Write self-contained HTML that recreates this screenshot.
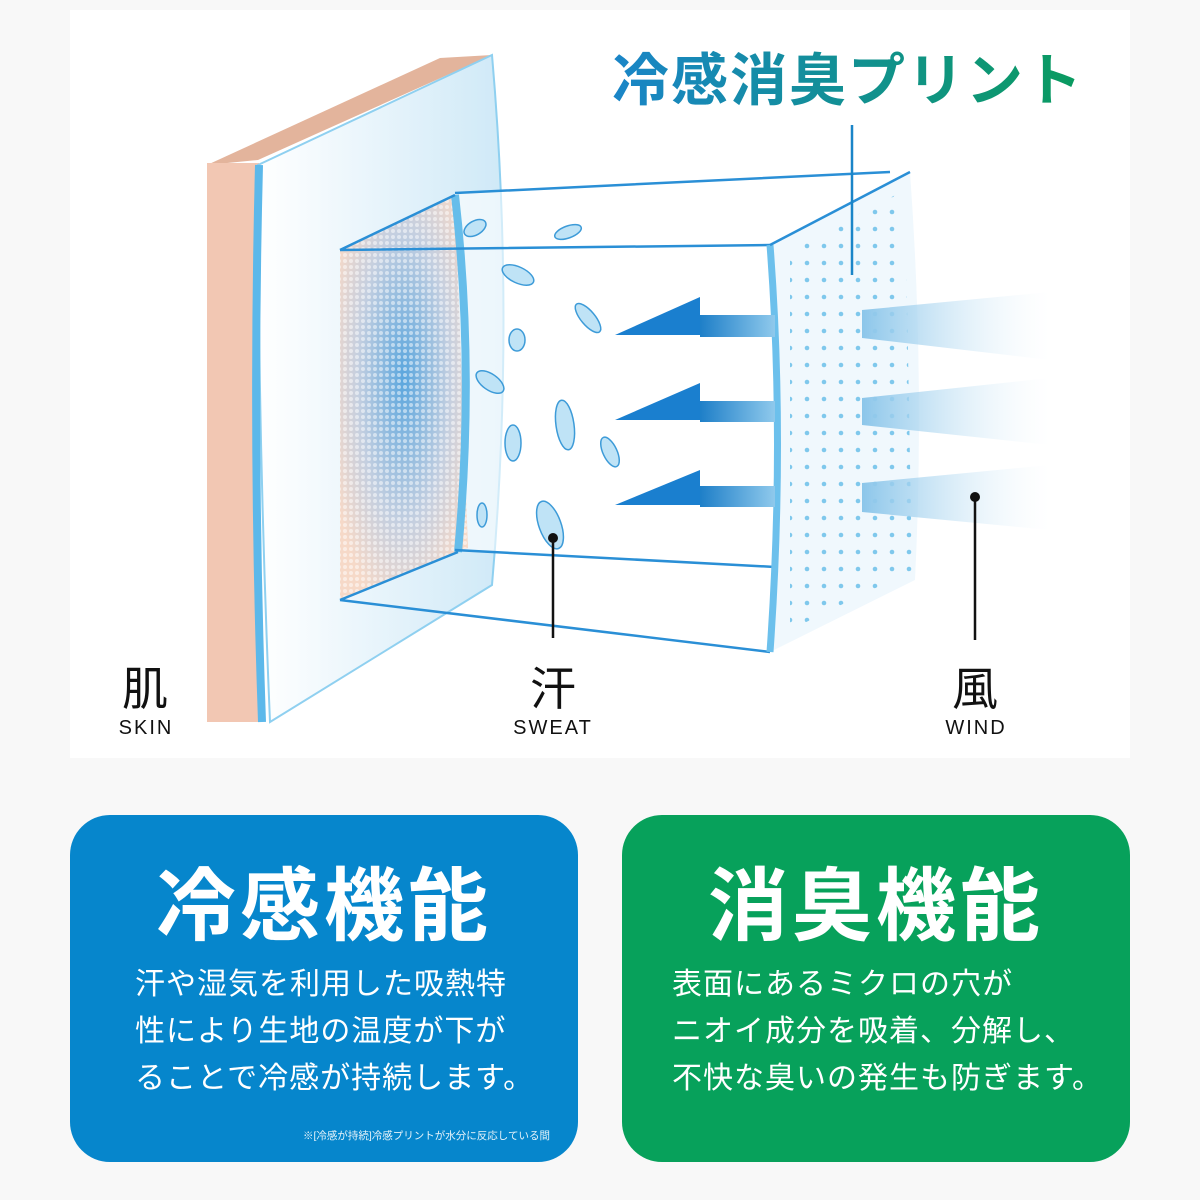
<!DOCTYPE html>
<html><head><meta charset="utf-8"><style>
body{margin:0;background:#f8f8f8;width:1200px;height:1200px;overflow:hidden;font-family:"Liberation Sans","Noto Sans CJK JP",sans-serif}
.card{position:absolute;top:815px;width:508px;height:347px;border-radius:40px;color:#fff}
.card h2{margin:0;position:absolute;top:44px;width:100%;text-align:center;font-size:80px;font-weight:bold;letter-spacing:4px;line-height:95px}
.card p{margin:0;position:absolute;top:146px;font-size:30px;line-height:47px;letter-spacing:1px}
</style></head><body>
<svg width="1200" height="760" style="position:absolute;left:0;top:0" xmlns="http://www.w3.org/2000/svg">
<defs>
<linearGradient id="tg" x1="0" x2="1"><stop offset="0" stop-color="#1a85c8"/><stop offset="1" stop-color="#0a9b5e"/></linearGradient>
<linearGradient id="wind" x1="0" x2="1"><stop offset="0" stop-color="#8cc6ea"/><stop offset="1" stop-color="#e8f4fb" stop-opacity="0"/></linearGradient>
<linearGradient id="shaft" x1="0" x2="1"><stop offset="0" stop-color="#1e7fc8"/><stop offset="1" stop-color="#8fc9ec"/></linearGradient>
<linearGradient id="panel" x1="0" x2="1"><stop offset="0" stop-color="#fff"/><stop offset="1" stop-color="#cfe9f7"/></linearGradient>
<radialGradient id="inner" cx="0.5" cy="0.45" r="0.6"><stop offset="0" stop-color="#5aa6de"/><stop offset="0.6" stop-color="#c4cfe0"/><stop offset="1" stop-color="#f6d9c8"/></radialGradient>
<pattern id="dots" width="17" height="17" patternUnits="userSpaceOnUse"><circle cx="8" cy="8" r="2.3" fill="#7fc8ec"/></pattern>
<pattern id="fine" width="6" height="6" patternUnits="userSpaceOnUse"><circle cx="3" cy="3" r="2" fill="#fff" opacity="0.5"/></pattern>
</defs>
<rect x="70" y="10" width="1060" height="748" fill="#fff"/>
<text x="612" y="100" font-size="57" font-weight="bold" fill="url(#tg)" letter-spacing="2" font-family="Liberation Sans,Noto Sans CJK JP,sans-serif">冷感消臭プリント</text>
<polygon points="207,165 440,58 492,55 258,160" fill="#e3b49c"/>
<rect x="207" y="163" width="52" height="559" fill="#f2c7b3"/>
<path d="M258,165 L492,55 Q515,320 492,585 L270,722 Q258,440 258,165Z" fill="url(#panel)" stroke="#8fd0f0" stroke-width="2"/>
<path d="M259,165 Q252,440 262,722" stroke="#5cb8ea" stroke-width="8" fill="none"/>
<polygon points="455,193 890,172 910,580 455,550" fill="#fff" opacity="0.6"/>
<polygon points="340,250 455,195 468,548 340,600" fill="url(#inner)"/>
<polygon points="340,250 455,195 468,548 340,600" fill="url(#fine)"/>
<path d="M455,195 Q475,370 458,552" stroke="#66bdea" stroke-width="8" fill="none"/>
<path d="M340,250 L455,195 M455,193 L890,172 M340,250 L770,245 M455,550 L775,567 M340,600 L770,652 M340,600 L458,552" stroke="#2a8fd6" stroke-width="2.5" fill="none"/>
<path d="M770,245 L910,172 Q925,380 915,580 L770,652 Q785,440 770,245Z" fill="#f0f8fd"/>
<path d="M790,250 L905,190 L912,570 L790,630Z" fill="url(#dots)"/>
<path d="M770,245 Q785,440 770,652" stroke="#6cc0ec" stroke-width="7" fill="none"/>
<path d="M770,245 L910,172" stroke="#2a8fd6" stroke-width="2.5"/>
<g fill="#1a7fcf">
<polygon points="615,335 700,297 700,335"/><rect x="700" y="315" width="75" height="22" fill="url(#shaft)"/>
<polygon points="615,420 700,383 700,420"/><rect x="700" y="401" width="75" height="21" fill="url(#shaft)"/>
<polygon points="615,505 700,470 700,505"/><rect x="700" y="486" width="75" height="21" fill="url(#shaft)"/>
</g>
<polygon points="862,310 1050,292 1050,360 862,338" fill="url(#wind)"/>
<polygon points="862,398 1050,378 1050,445 862,425" fill="url(#wind)"/>
<polygon points="862,483 1050,465 1050,530 862,512" fill="url(#wind)"/>
<g fill="#bfe3f6" stroke="#3d9bd8" stroke-width="1.5">
<ellipse cx="475" cy="228" rx="12" ry="7" transform="rotate(-30 475 228)"/>
<ellipse cx="568" cy="232" rx="14" ry="6" transform="rotate(-20 568 232)"/>
<ellipse cx="518" cy="275" rx="17" ry="8" transform="rotate(25 518 275)"/>
<ellipse cx="588" cy="318" rx="18" ry="7" transform="rotate(50 588 318)"/>
<ellipse cx="517" cy="340" rx="8" ry="11"/>
<ellipse cx="490" cy="382" rx="16" ry="8" transform="rotate(35 490 382)"/>
<ellipse cx="565" cy="425" rx="9" ry="25" transform="rotate(-8 565 425)"/>
<ellipse cx="513" cy="443" rx="8" ry="18"/>
<ellipse cx="610" cy="452" rx="7" ry="16" transform="rotate(-25 610 452)"/>
<ellipse cx="482" cy="515" rx="5" ry="12"/>
<ellipse cx="550" cy="525" rx="11" ry="25" transform="rotate(-20 550 525)"/>
</g>
<g stroke="#111" stroke-width="2.5"><line x1="852" y1="125" x2="852" y2="275" stroke="#1a85c8"/><line x1="553" y1="538" x2="553" y2="638"/><line x1="975" y1="497" x2="975" y2="640"/></g>
<circle cx="553" cy="538" r="5" fill="#111"/><circle cx="975" cy="497" r="5" fill="#111"/>
<g font-family="Liberation Sans,Noto Sans CJK JP,sans-serif" text-anchor="middle" fill="#111">
<text x="145" y="705" font-size="46">肌</text><text x="553" y="705" font-size="46">汗</text><text x="975" y="705" font-size="46">風</text>
<text x="146" y="734" font-size="20" letter-spacing="2">SKIN</text><text x="553" y="734" font-size="20" letter-spacing="2">SWEAT</text><text x="976" y="734" font-size="20" letter-spacing="2">WIND</text>
</g>
</svg>
<div class="card" style="left:70px;background:#0686cc">
<h2>冷感機能</h2>
<p style="left:65px">汗や湿気を利用した吸熱特<br>性により生地の温度が下が<br>ることで冷感が持続します。</p>
<div style="position:absolute;right:28px;top:313px;font-size:10.5px;opacity:.9">※[冷感が持続]冷感プリントが水分に反応している間</div>
</div>
<div class="card" style="left:622px;background:#07a15b">
<h2>消臭機能</h2>
<p style="left:50px">表面にあるミクロの穴が<br>ニオイ成分を吸着、分解し、<br>不快な臭いの発生も防ぎます。</p>
</div>
</body></html>
